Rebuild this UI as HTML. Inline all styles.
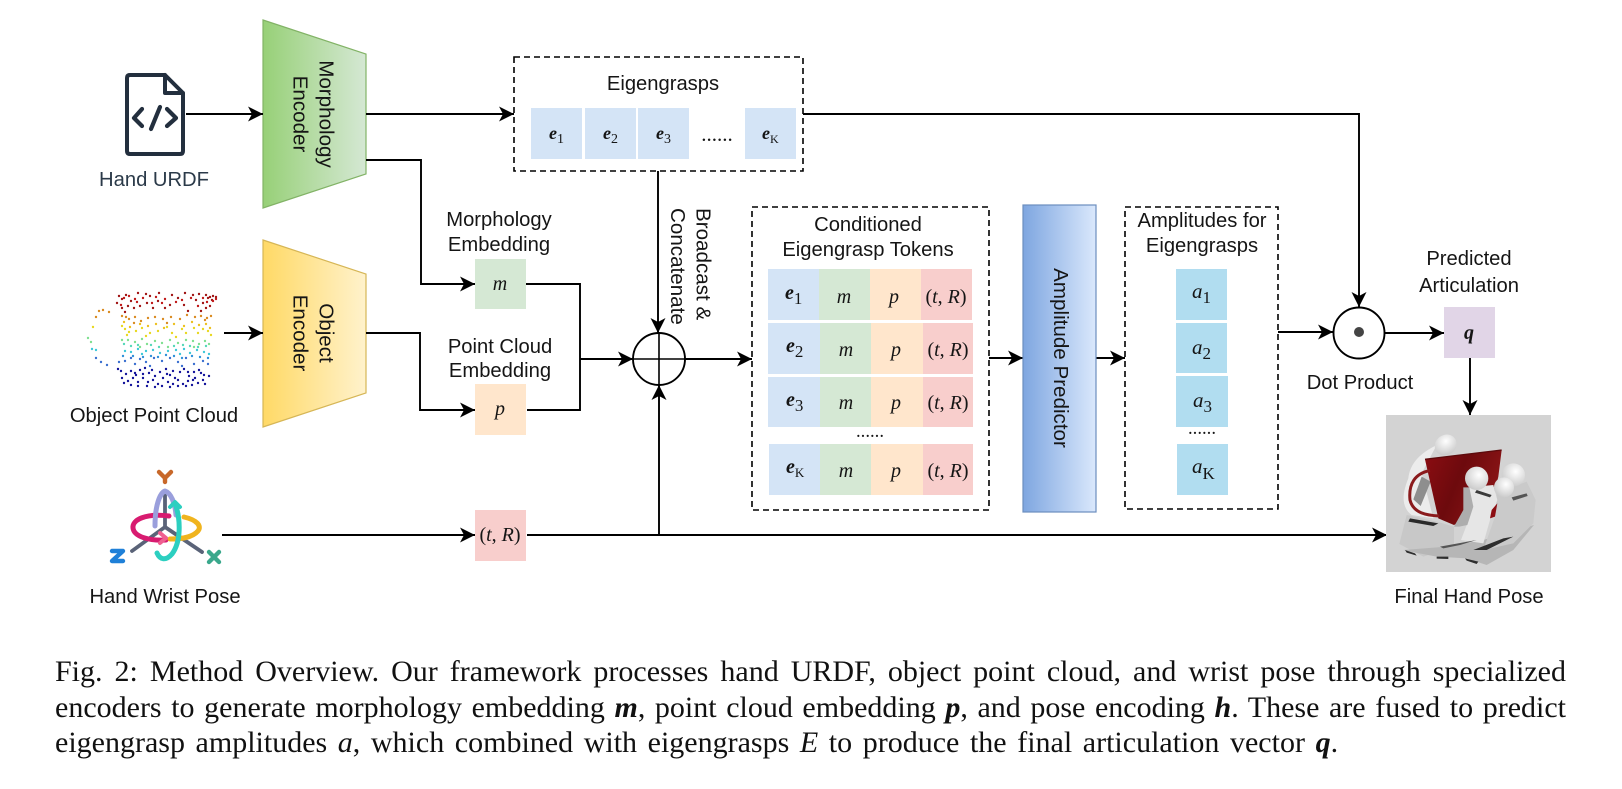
<!DOCTYPE html>
<html lang="en">
<head>
<meta charset="utf-8">
<title>Method Overview</title>
<style>
html,body{margin:0;padding:0;background:#fff;width:1622px;height:789px;overflow:hidden}
svg{position:absolute;left:0;top:0;display:block}
svg text{font-family:"Liberation Sans",sans-serif;font-size:20.2px;fill:#151515}
svg .c{text-anchor:middle}
svg .r{font-size:20.6px}
svg .m{font-family:"Liberation Serif",serif;font-style:italic;font-size:20px;text-anchor:middle}
svg .b{font-family:"Liberation Serif",serif;font-style:italic;font-weight:bold;font-size:18px}
svg .s{font-family:"Liberation Serif",serif;font-size:14px;font-style:normal;font-weight:normal}
.cap{position:absolute;left:55px;width:1511px;font:30px/36px "Liberation Serif",serif;color:#111}
.j{text-align:justify;text-align-last:justify}
.cap b{font-style:italic}
</style>
</head>
<body>
<svg width="1622" height="789" viewBox="0 0 1622 789" xmlns="http://www.w3.org/2000/svg">
<defs>
<marker id="a" markerUnits="userSpaceOnUse" markerWidth="16" markerHeight="16" refX="15" refY="7.5" orient="auto"><path d="M15 7.5L0 0L4 7.5L0 15Z" fill="#000"/></marker>
<linearGradient id="g1"><stop offset="0" stop-color="#97d077"/><stop offset="1" stop-color="#d5e8d4"/></linearGradient>
<linearGradient id="g2"><stop offset="0" stop-color="#ffd966"/><stop offset="1" stop-color="#fff2cc"/></linearGradient>
<linearGradient id="g3"><stop offset="0" stop-color="#7ea6e0"/><stop offset="1" stop-color="#dae8fc"/></linearGradient>
<radialGradient id="tip" cx=".6" cy=".35" r=".75"><stop offset="0" stop-color="#fff"/><stop offset="1" stop-color="#c4c4c4"/></radialGradient>
<linearGradient id="mug" x1="0" x2="1" y1="0" y2=".4"><stop offset="0" stop-color="#8c0d12"/><stop offset=".5" stop-color="#6d0a0d"/><stop offset="1" stop-color="#8a1416"/></linearGradient>
</defs>

<!-- Encoders -->
<polygon points="263,20 366,54 366,174 263,208" fill="url(#g1)" stroke="#82b366" stroke-width="1.2"/>
<text transform="translate(319.5,114) rotate(90)" class="c r">Morphology</text>
<text transform="translate(293.5,114) rotate(90)" class="c r">Encoder</text>
<polygon points="263,240 366,274 366,393 263,427" fill="url(#g2)" stroke="#d6b656" stroke-width="1.2"/>
<text transform="translate(319.5,333) rotate(90)" class="c r">Object</text>
<text transform="translate(293.5,333) rotate(90)" class="c r">Encoder</text>

<!-- Doc icon -->
<g fill="none" stroke="#232f3e" stroke-width="4" stroke-linejoin="round" stroke-linecap="round">
<path d="M165 75H130q-3 0-3 3V151q0 3 3 3H180q3 0 3-3V93L165 75V93H183"/>
<path d="M142 109L134 118L142 126M167 109L176 118L167 126M160 107L151 129" stroke-width="4.2"/>
</g>
<text x="154" y="186" class="c" style="fill:#2b3a49">Hand URDF</text>

<!-- Point cloud -->
<g id="pc" fill="none" stroke-width="2.4" stroke-linecap="round">
<path stroke="#a01414" d="M119 296h0M122 299h0M126 295h0M131 301h0M138 293h0M146 294h0M150 296h0M159 293h0M172 295h0M185 293h0M193 295h0M199 294h0M206 295h0M210 297h0M213 296h0M216 297h0M212 300h0M208 298h0M203 303h0M206 308h0M210 306h0M196 300h0M184 305h0M178 298h0M170 305h0M158 301h0M153 308h0M147 303h0M140 306h0M134 308h0M128 306h0M122 308h0M117 303h0M165 308h0M188 311h0M201 311h0M125 312h0"/>
<path stroke="#d98a20" d="M99 311h0M103 310h0M109 312h0M96 317h0M122 316h0M126 317h0M129 319h0M135 317h0M141 321h0M148 318h0M155 317h0M163 319h0M171 317h0M180 319h0M187 315h0M195 317h0M201 316h0M207 318h0M211 316h0M205 320h0M134 323h0M167 323h0"/>
<path stroke="#e8d820" d="M93 327h0M122 326h0M125 329h0M129 332h0M136 331h0M142 328h0M150 333h0M158 331h0M167 327h0M172 333h0M182 329h0M186 333h0M194 328h0M198 333h0M203 329h0M208 331h0M211 335h0M146 336h0M176 337h0M127 335h0"/>
<path stroke="#7fe090" d="M88 338h0M91 342h0M122 340h0M128 340h0M135 342h0M142 339h0M147 344h0M155 341h0M162 343h0M170 340h0M178 343h0M186 340h0M193 341h0M199 344h0M205 341h0M209 344h0M140 347h0M168 347h0M194 347h0"/>
<path stroke="#3cc8d8" d="M92 349h0M96 350h0M125 351h0M131 352h0M138 349h0M146 351h0M153 350h0M160 353h0M168 351h0M176 350h0M184 349h0M190 353h0M197 350h0M204 352h0M209 354h0M142 354h0M180 354h0"/>
<path stroke="#3a6fd0" d="M96 358h0M101 362h0M107 365h0M119 362h0M125 361h0M131 358h0M140 359h0M146 362h0M154 358h0M162 361h0M170 358h0M178 362h0M186 358h0M194 364h0M203 361h0M208 364h0M135 364h0M150 366h0M182 366h0"/>
<path stroke="#12129a" d="M118 369h0M121 371h0M126 374h0M131 371h0M136 375h0M140 370h0M145 368h0M149 373h0M155 376h0M160 372h0M166 369h0M170 375h0M175 378h0M180 372h0M184 369h0M189 376h0M194 372h0M199 370h0M204 375h0M209 376h0M122 378h0M128 381h0M133 378h0M138 382h0M143 378h0M148 382h0M153 380h0M158 384h0M163 378h0M168 382h0M173 384h0M178 380h0M183 384h0M188 381h0M193 380h0M198 383h0M203 380h0M138 386h0M155 387h0M170 387h0M186 386h0M143 374h0M167 374h0M195 378h0M124 383h0M131 385h0M147 386h0M162 386h0M178 386h0M192 385h0M205 384h0M135 373h0M152 370h0M173 371h0M188 372h0M201 373h0"/>
<path stroke="#c01818" d="M124 298h0M135 299h0M143 298h0M156 297h0M165 299h0M176 302h0M191 298h0M203 298h0M213 301h0M216 299h0M207 302h0M129 296h0M121 305h0M137 302h0M152 303h0M162 303h0M182 300h0M198 306h0"/>
<path stroke="#ecc020" d="M124 322h0M130 327h0M140 324h0M148 326h0M156 324h0M164 328h0M174 324h0M184 326h0M192 322h0M199 325h0M206 324h0M210 328h0"/>
<path stroke="#55d8b8" d="M124 344h0M131 346h0M138 345h0M151 345h0M159 347h0M174 346h0M183 345h0M190 346h0M198 347h0M206 346h0"/>
<path stroke="#2f90d8" d="M123 356h0M133 356h0M143 357h0M151 356h0M158 357h0M166 355h0M174 356h0M182 358h0M192 356h0M200 357h0M208 358h0"/>
</g>
<text x="154" y="422" class="c">Object Point Cloud</text>

<!-- Axis icon -->
<g fill="none" stroke-linecap="round" stroke-linejoin="round">
<path d="M165 492V527M165 527L132 551M165 527L202 552" stroke="#5a6378" stroke-width="3.8"/>
<path d="M169 516C145 513 132 520 133 528C134 537 150 541 166 540" stroke="#d81b70" stroke-width="5"/>
<path d="M184 517C197 520 202 526 198 531C192 538 180 539 170 539" stroke="#f0b41e" stroke-width="5"/>
<path d="M155 526C155 505 160 493 165 491C171 493 175 503 176 515" stroke="#9a9fdc" stroke-width="5"/>
<path d="M175 503C181 520 181 542 172 554C166 561 160 560 157 553" stroke="#2ccfc0" stroke-width="5"/>
<path d="M170 507L175 502L180 507" stroke="#2ccfc0" stroke-width="4"/>
<path d="M160 533L166 538L160 543" stroke="#ef5f90" stroke-width="4"/>
<path d="M159 472L165 478L171 472M165 478V482" stroke="#c8682a" stroke-width="4.4"/>
<path d="M112 551H123L112 561H123" stroke="#1f80d8" stroke-width="4.4"/>
<path d="M209 552L219 562M219 552L209 562" stroke="#3aa88c" stroke-width="4.4"/>
</g>
<text x="165" y="603" class="c">Hand Wrist Pose</text>

<!-- Eigengrasps -->
<rect x="514" y="57" width="289" height="114" fill="#fff" stroke="#000" stroke-width="1.6" stroke-dasharray="6 4"/>
<text x="663" y="90" class="c">Eigengrasps</text>
<g fill="#d4e4f6">
<rect x="531" y="108" width="51" height="51"/><rect x="585" y="108" width="51" height="51"/><rect x="638" y="108" width="51" height="51"/><rect x="745" y="108" width="51" height="51"/>
</g>
<text x="549" y="139" class="b">e<tspan class="s" dy="4">1</tspan></text>
<text x="603" y="139" class="b">e<tspan class="s" dy="4">2</tspan></text>
<text x="656" y="139" class="b">e<tspan class="s" dy="4">3</tspan></text>
<text x="762" y="139" class="b">e<tspan class="s" dy="4" style="font-size:12px">K</tspan></text>
<text x="717" y="141" class="c" style="font-family:'Liberation Serif',serif;font-size:21px">......</text>

<!-- Embeddings -->
<text x="499" y="226" class="c">Morphology</text>
<text x="499" y="251" class="c">Embedding</text>
<rect x="475" y="259" width="51" height="50" fill="#d5e8d4"/>
<text x="500" y="290" class="m">m</text>
<text x="500" y="353" class="c">Point Cloud</text>
<text x="500" y="377" class="c">Embedding</text>
<rect x="475" y="384" width="51" height="51" fill="#ffe6cc"/>
<text x="500" y="415" class="m">p</text>
<rect x="475" y="510" width="51" height="51" fill="#f8cecc"/>
<text x="500" y="541" class="m"><tspan font-style="normal">(</tspan>t<tspan font-style="normal">, </tspan>R<tspan font-style="normal">)</tspan></text>

<!-- Connectors -->
<g fill="none" stroke="#000" stroke-width="1.9">
<path d="M186 114H263" marker-end="url(#a)"/>
<path d="M366 114H514" marker-end="url(#a)"/>
<path d="M366 160H421V284H475" marker-end="url(#a)"/>
<path d="M224 333H263" marker-end="url(#a)"/>
<path d="M366 333H420V410H475" marker-end="url(#a)"/>
<path d="M526 284H580V410H527"/>
<path d="M580 359H633" marker-end="url(#a)"/>
<path d="M658 171V333" marker-end="url(#a)"/>
<path d="M659 535V385" marker-end="url(#a)"/>
<circle cx="659" cy="359" r="26" fill="#fff"/>
<path d="M633 359H685M659 333V385" stroke-width="1.6"/>
<path d="M685 359H752" marker-end="url(#a)"/>
<path d="M222 535H475" marker-end="url(#a)"/>
<path d="M527 535H1387" marker-end="url(#a)"/>
<path d="M803 114H1359V307" marker-end="url(#a)"/>
<path d="M989 358H1023" marker-end="url(#a)"/>
<path d="M1096 358H1125" marker-end="url(#a)"/>
<path d="M1278 332H1333" marker-end="url(#a)"/>
<circle cx="1359" cy="333" r="25.5" fill="#fff"/>
<path d="M1385 333H1444" marker-end="url(#a)"/>
<path d="M1470 358V415" marker-end="url(#a)"/>
</g>
<circle cx="1359" cy="332" r="5" fill="#444"/>
<text transform="translate(696.5,208) rotate(90)" class="r">Broadcast &amp;</text>
<text transform="translate(671,208) rotate(90)" class="r">Concatenate</text>

<!-- Tokens -->
<rect x="752" y="207" width="237" height="303" fill="#fff" stroke="#000" stroke-width="1.6" stroke-dasharray="6 4"/>
<text x="868" y="231" class="c">Conditioned</text>
<text x="868" y="256" class="c">Eigengrasp Tokens</text>
<g>
<rect x="768" y="269" width="51" height="51" fill="#d4e4f6"/><rect x="819" y="269" width="51" height="51" fill="#d5e8d4"/><rect x="870" y="269" width="51" height="51" fill="#ffe6cc"/><rect x="921" y="269" width="51" height="51" fill="#f8cecc"/>
<rect x="768" y="323" width="52" height="51" fill="#d4e4f6"/><rect x="820" y="323" width="51" height="51" fill="#d5e8d4"/><rect x="871" y="323" width="52" height="51" fill="#ffe6cc"/><rect x="923" y="323" width="50" height="51" fill="#f8cecc"/>
<rect x="768" y="377" width="52" height="50" fill="#d4e4f6"/><rect x="820" y="377" width="51" height="50" fill="#d5e8d4"/><rect x="871" y="377" width="52" height="50" fill="#ffe6cc"/><rect x="923" y="377" width="50" height="50" fill="#f8cecc"/>
<rect x="769" y="444" width="51" height="51" fill="#d4e4f6"/><rect x="820" y="444" width="51" height="51" fill="#d5e8d4"/><rect x="871" y="444" width="52" height="51" fill="#ffe6cc"/><rect x="923" y="444" width="50" height="51" fill="#f8cecc"/>
</g>
<g>
<text x="785" y="299" class="b" style="font-size:20px">e<tspan class="s" dy="5" style="font-size:17px">1</tspan></text>
<text x="786" y="352" class="b" style="font-size:20px">e<tspan class="s" dy="5" style="font-size:17px">2</tspan></text>
<text x="786" y="406" class="b" style="font-size:20px">e<tspan class="s" dy="5" style="font-size:17px">3</tspan></text>
<text x="786" y="473" class="b" style="font-size:20px">e<tspan class="s" dy="4" style="font-size:13px">K</tspan></text>
<text x="844" y="303" class="m">m</text><text x="846" y="356" class="m">m</text><text x="846" y="409" class="m">m</text><text x="846" y="477" class="m">m</text>
<text x="894" y="303" class="m">p</text><text x="896" y="356" class="m">p</text><text x="896" y="409" class="m">p</text><text x="896" y="477" class="m">p</text>
<text x="946" y="303" class="m"><tspan font-style="normal">(</tspan>t<tspan font-style="normal">, </tspan>R<tspan font-style="normal">)</tspan></text>
<text x="948" y="356" class="m"><tspan font-style="normal">(</tspan>t<tspan font-style="normal">, </tspan>R<tspan font-style="normal">)</tspan></text>
<text x="948" y="409" class="m"><tspan font-style="normal">(</tspan>t<tspan font-style="normal">, </tspan>R<tspan font-style="normal">)</tspan></text>
<text x="948" y="477" class="m"><tspan font-style="normal">(</tspan>t<tspan font-style="normal">, </tspan>R<tspan font-style="normal">)</tspan></text>
<text x="870" y="437" class="c" style="font-family:'Liberation Serif',serif;font-size:18.7px">......</text>
</g>

<!-- Amplitude predictor -->
<rect x="1023" y="205" width="73" height="307" fill="url(#g3)" stroke="#6c8ebf" stroke-width="1.2"/>
<text transform="translate(1054,358) rotate(90)" class="c r">Amplitude Predictor</text>

<!-- Amplitudes -->
<rect x="1125" y="207" width="153" height="302" fill="#fff" stroke="#000" stroke-width="1.6" stroke-dasharray="6 4"/>
<text x="1202" y="227" class="c">Amplitudes for</text>
<text x="1202" y="252" class="c">Eigengrasps</text>
<g fill="#b1ddf0">
<rect x="1176" y="269" width="51" height="51"/><rect x="1176" y="323" width="51" height="50"/><rect x="1176" y="376" width="52" height="51"/><rect x="1177" y="444" width="51" height="51"/>
</g>
<text x="1192" y="298" class="m" style="text-anchor:start;font-size:21px">a<tspan class="s" dy="5" style="font-size:17px">1</tspan></text>
<text x="1192" y="354" class="m" style="text-anchor:start;font-size:21px">a<tspan class="s" dy="5" style="font-size:17px">2</tspan></text>
<text x="1193" y="407" class="m" style="text-anchor:start;font-size:21px">a<tspan class="s" dy="5" style="font-size:17px">3</tspan></text>
<text x="1192" y="473" class="m" style="text-anchor:start;font-size:21px">a<tspan class="s" dy="6" style="font-size:17px">K</tspan></text>
<text x="1202" y="434" class="c" style="font-family:'Liberation Serif',serif;font-size:18.7px">......</text>

<!-- Dot product / q -->
<text x="1360" y="389" class="c">Dot Product</text>
<text x="1469" y="265" class="c">Predicted</text>
<text x="1469" y="292" class="c">Articulation</text>
<rect x="1444" y="307" width="51" height="51" fill="#e1d5e7"/>
<text x="1469" y="339" class="b" style="text-anchor:middle;font-size:20px">q</text>

<!-- Final hand image -->
<rect x="1386" y="415" width="165" height="157" fill="#d3d3d3"/>
<g transform="translate(1380,410) scale(.3333)">
<path d="M170 105C120 130 90 160 85 205C62 260 68 295 95 315L160 325L125 190Z" fill="#ececec"/>
<path d="M125 200L152 215L122 288L100 268Z" fill="#8e8e8e"/>
<ellipse cx="197" cy="105" rx="34" ry="30" fill="url(#tip)" transform="rotate(-35 197 105)"/>
<path d="M135 148L365 120L355 200L335 285L222 345L175 325Z" fill="url(#mug)"/>
<path d="M135 148L365 120" stroke="#5c0a0c" stroke-width="4"/>
<path d="M150 182C105 190 85 222 90 270C100 310 140 316 178 318" fill="none" stroke="#8a1a1c" stroke-width="9"/>
<path d="M80 315L170 335L222 350L222 410L130 440L58 402Z" fill="#c8c8c8"/>
<path d="M90 325L175 340L160 348L85 335Z" fill="#2a2a2a"/>
<path d="M70 420L200 410L310 390L462 345L400 420L320 465L260 445L170 440L90 425Z" fill="#b6b6b6"/>
<path d="M350 250L440 215L467 270L460 340L400 400L310 420L345 320Z" fill="#cacaca"/>
<path d="M265 232L340 225L352 270L330 330L310 400L243 390L262 340L275 290Z" fill="#e6e6e6"/>
<path d="M250 232L268 232L280 290L262 345L238 350L222 350L250 300Z" fill="#adadad"/>
<path d="M290 240L335 255L330 262L285 248Z" fill="#3a3a3a"/>
<path d="M395 262L440 250L443 258L400 272Z" fill="#555"/>
<path d="M335 300L352 280L345 320L330 325Z" fill="#8c0d12"/>
<circle cx="400" cy="195" r="35" fill="url(#tip)"/>
<circle cx="290" cy="205" r="35" fill="url(#tip)"/>
<circle cx="372" cy="232" r="30" fill="url(#tip)"/>
<path d="M75 420L105 430L110 437L80 428ZM170 440L205 440L205 447L170 446ZM255 445L295 455L290 462L260 452ZM280 420L370 385L400 380L320 420Z" fill="#2e2e2e"/>
<path d="M180 410L290 390L240 405L190 415Z" fill="#555"/>
</g>
<text x="1469" y="603" class="c">Final Hand Pose</text>
</svg>

<div class="cap j" style="top:654px">Fig. 2: Method Overview. Our framework processes hand URDF, object point cloud, and wrist pose through specialized</div>
<div class="cap j" style="top:689.5px;word-spacing:-2px">encoders to generate morphology embedding <b>m</b>, point cloud embedding <b>p</b>, and pose encoding <b>h</b>. These are fused to predict</div>
<div class="cap" style="top:725px;white-space:nowrap;word-spacing:3.1px">eigengrasp amplitudes <i>a</i>, which combined with eigengrasps <i>E</i> to produce the final articulation vector <b>q</b>.</div>
</body>
</html>
